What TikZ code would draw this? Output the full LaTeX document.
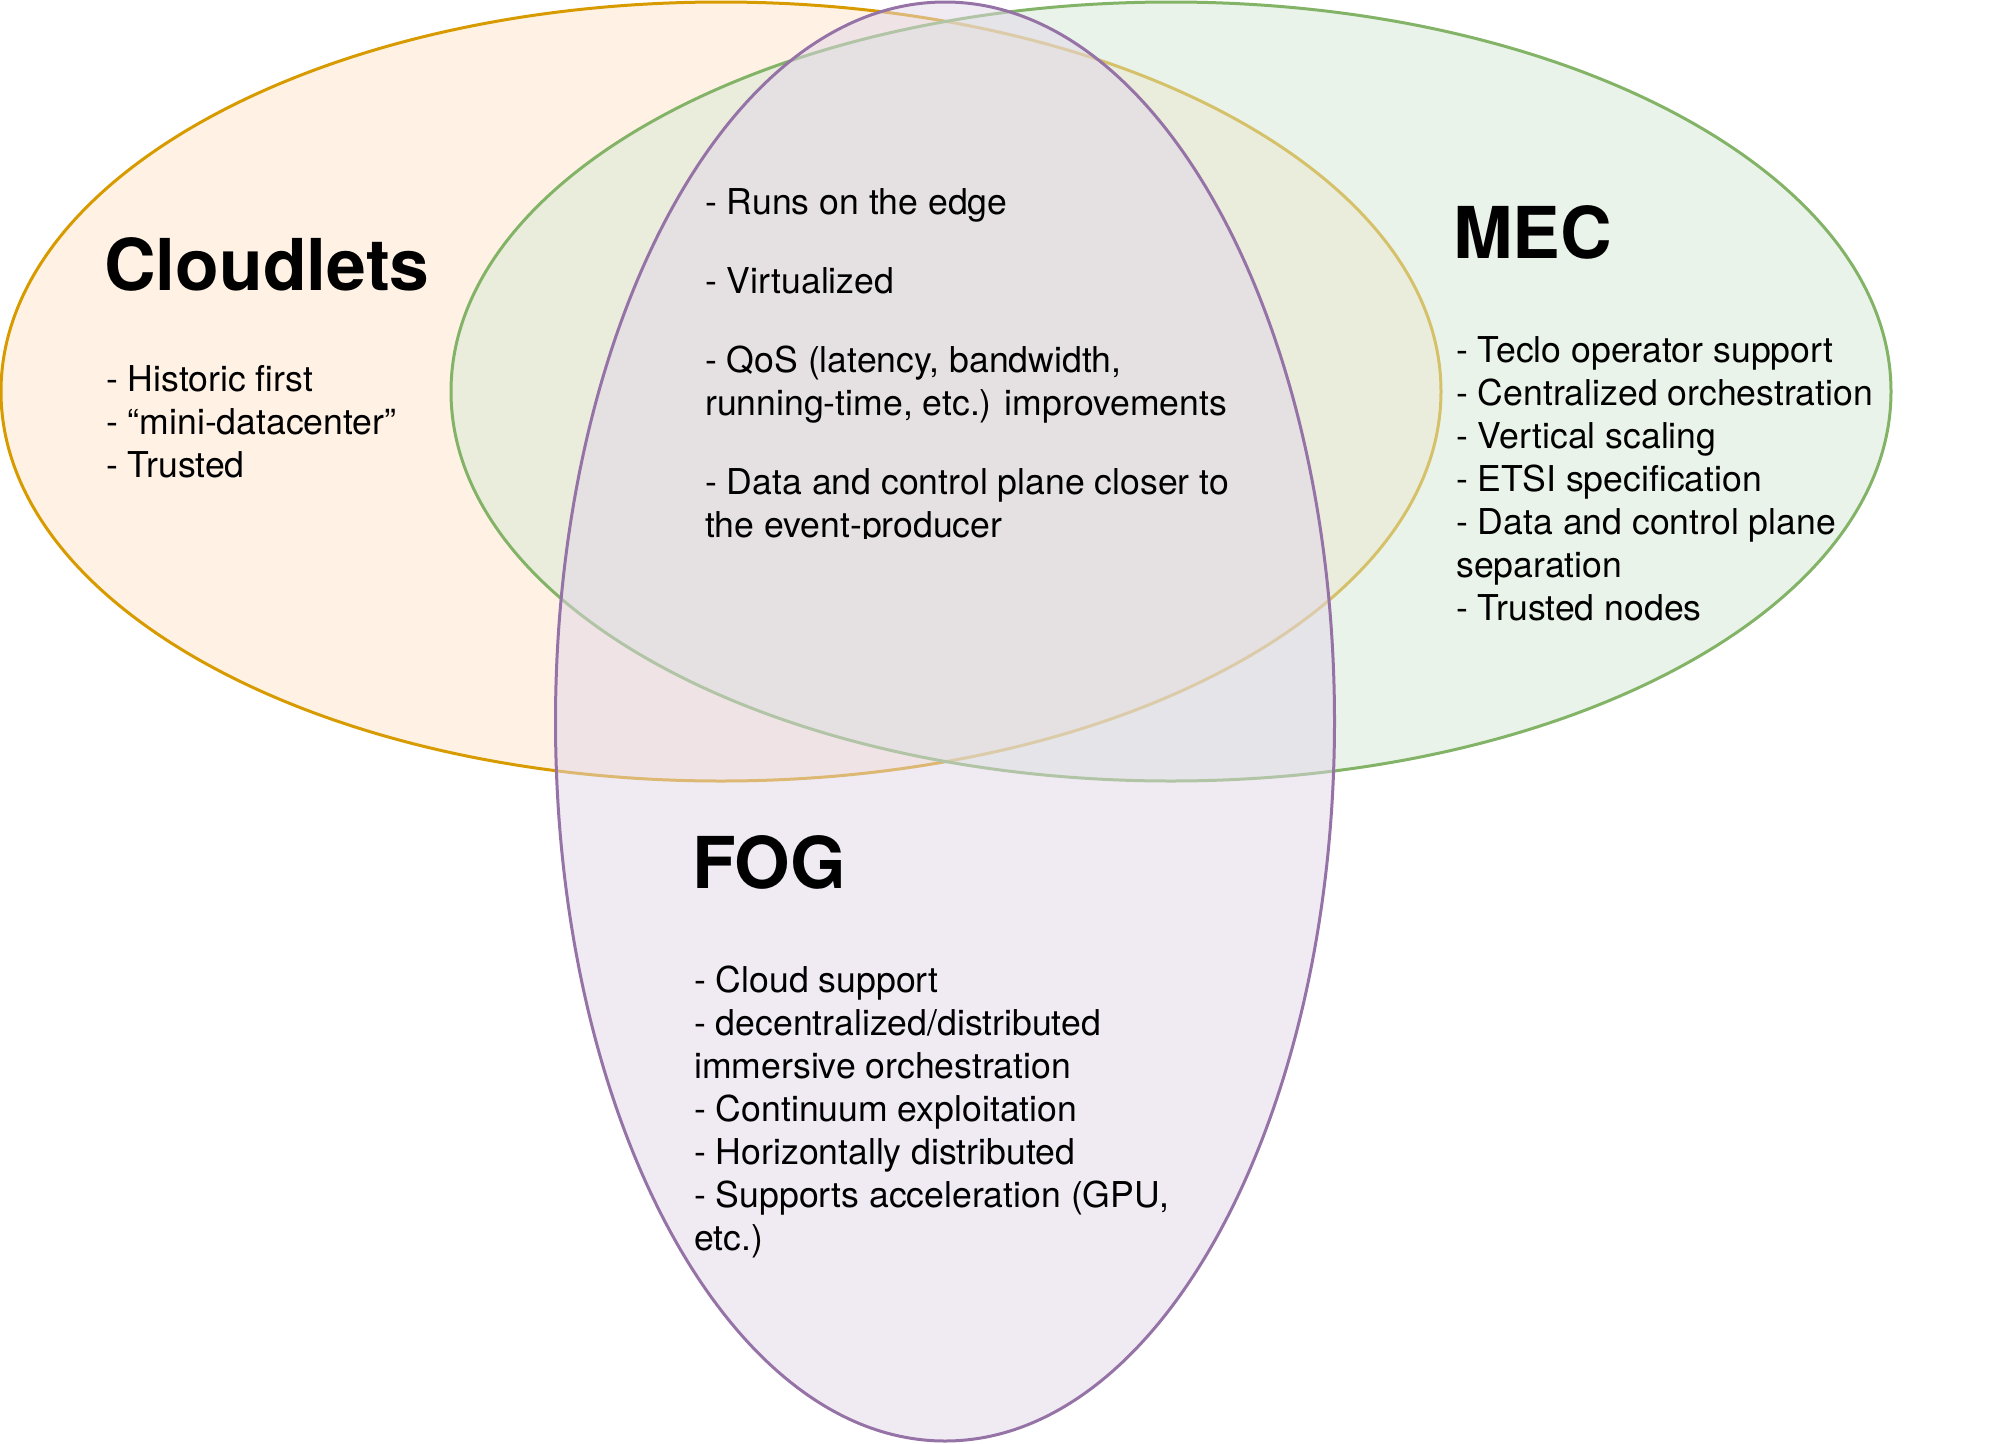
\documentclass[tikz,border=0pt]{standalone}
\usepackage{fontspec}
\setmainfont{TeX Gyre Heros}
\definecolor{cloudFill}{HTML}{FFE6CC}
\definecolor{cloudLine}{HTML}{D79B00}
\definecolor{mecFill}{HTML}{D5E8D4}
\definecolor{mecLine}{HTML}{82B366}
\definecolor{fogFill}{HTML}{E1D5E7}
\definecolor{fogLine}{HTML}{9673A6}
\begin{document}
\begin{tikzpicture}[x=1pt,y=-1pt,
  venn/.style={line width=3pt, fill opacity=0.5, draw opacity=1},
  heading/.style={anchor=base west, inner sep=0pt, font=\fontsize{71.5}{86}\selectfont\bfseries},
  % multi-line nodes: the base anchor sits on the last line's baseline
  items/.style={anchor=base west, inner sep=0pt, align=left, font=\fontsize{35.6}{43}\selectfont},
]
\useasboundingbox (0,0) rectangle (2013,1443);

% the three sets
\path[venn, draw=cloudLine, fill=cloudFill] (721,391.5) ellipse [x radius=720pt, y radius=389.5pt];
\path[venn, draw=mecLine, fill=mecFill] (1171,391.5) ellipse [x radius=720pt, y radius=389.5pt];
\path[venn, draw=fogLine, fill=fogFill] (945,721.5) ellipse [x radius=389.5pt, y radius=719.5pt];

% Cloudlets
\node[heading] (cloudTitle) at (104,290) {Cloudlets};
\node[items] (cloudList) at (106,477) {- Historic first\\- “mini-datacenter”\\- Trusted};

% MEC
\node[heading] (mecTitle) at (1453,258) {MEC};
\node[items] (mecList) at (1456,620) {- Teclo operator support\\- Centralized orchestration\\- Vertical scaling\\- ETSI specification\\- Data and control plane\\separation\\- Trusted nodes};

% FOG
\node[heading] (fogTitle) at (692,888) {FOG};
\node[items] (fogList) at (694,1250) {- Cloud support\\- decentralized/distributed\\immersive orchestration\\- Continuum exploitation\\- Horizontally distributed\\- Supports acceleration (GPU,\\etc.)};

% shared properties, cut off at the bottom of their text box
\begin{scope}
  \clip (690,150) rectangle (1300,538);
  \node[items] (commonList) at (705,537) {- Runs on the edge\\[36pt]- Virtualized\\[36pt]- QoS (latency, bandwidth,\\running-time, etc.) improvements\\[36pt]- Data and control plane closer to\\the event-producer};
\end{scope}
\end{tikzpicture}
\end{document}
